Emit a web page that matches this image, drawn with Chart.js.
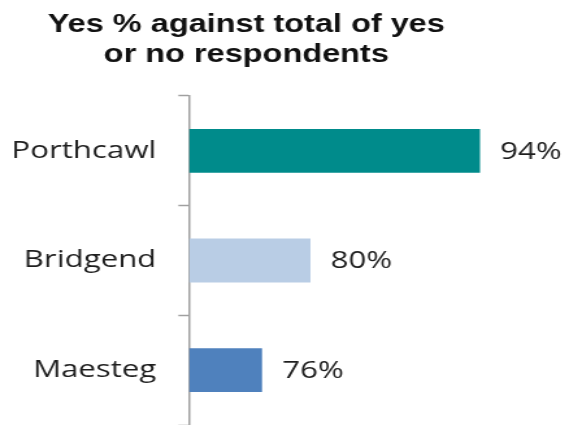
<!DOCTYPE html>
<html>
<head>
<meta charset="utf-8">
<script src="https://cdn.jsdelivr.net/npm/chart.js@4"></script>
<style>
    html, body { margin: 0; padding: 0; background: #fff; overflow: hidden; }
    /* the chart is laid out narrow and then widened to fill the window */
    #wrap { width: 438px; height: 425px; transform: scaleX(1.2991); transform-origin: 0 0; }
</style>
</head>
<body>
<div id="wrap"><canvas id="yesChart" width="438" height="425"></canvas></div>
<script>
const titleLines = ['Yes % against total of yes', 'or no respondents'];
const towns = ['Porthcawl', 'Bridgend', 'Maesteg'];
const yesPercent = [94, 80, 76];
const barColours = ['#008b8b', '#b9cde5', '#4f81bd'];
const axisMin = 70;
const axisMax = 100;

/**
 * Two line heading, centred a little left of the canvas middle.
 */
const headingPlugin = {
    id: 'heading',
    afterDraw(chart) {
        const ctx = chart.ctx;
        ctx.save();
        ctx.font = 'bold 25px "Liberation Sans", Arial, sans-serif';
        ctx.fillStyle = '#111';
        ctx.textAlign = 'center';
        ctx.textBaseline = 'alphabetic';
        titleLines.forEach(function(line, i) {
            ctx.fillText(line, 189.6, 32 + i * 30);
        });
        ctx.restore();
    }
};

/**
 * Writes the percentage just past the end of each bar.
 */
const valueLabelPlugin = {
    id: 'valueLabels',
    afterDatasetsDraw(chart) {
        const ctx = chart.ctx;
        const meta = chart.getDatasetMeta(0);
        ctx.save();
        ctx.font = '24px "Open Sans", sans-serif';
        ctx.fillStyle = '#1e1e1e';
        ctx.textAlign = 'left';
        ctx.textBaseline = 'middle';
        meta.data.forEach(function(bar, i) {
            ctx.fillText(yesPercent[i] + '%', bar.x + 15.5, bar.y + 1);
        });
        ctx.restore();
    }
};

const yesChart = new Chart(document.getElementById('yesChart').getContext('2d'), {
    type: 'bar',
    data: {
        labels: towns,
        datasets: [{
            data: yesPercent,
            backgroundColor: barColours,
            borderWidth: 0,
            barPercentage: 0.4,
            categoryPercentage: 1.0
        }]
    },
    options: {
        indexAxis: 'y',
        responsive: false,
        animation: false,
        layout: {
            padding: { top: 96, right: 12.6, bottom: 0, left: 0 }
        },
        plugins: {
            legend: { display: false },
            title: { display: false },
            tooltip: { enabled: false }
        },
        scales: {
            x: {
                display: false,
                min: axisMin,
                max: axisMax
            },
            y: {
                // fixed axis width, and let the axis run to the bottom edge
                afterFit: function(scale) {
                    scale.width = 145.8;
                    scale.paddingTop = 0;
                    scale.paddingBottom = 0;
                },
                grid: {
                    offset: true,
                    drawOnChartArea: false,
                    drawTicks: true,
                    tickLength: 8.5,
                    tickWidth: 1.5,
                    color: '#a0a0a0'
                },
                border: {
                    display: true,
                    color: '#a0a0a0',
                    width: 1.5
                },
                ticks: {
                    padding: 17,
                    color: '#1e1e1e',
                    font: { family: '"Open Sans", sans-serif', size: 24 }
                }
            }
        }
    },
    plugins: [headingPlugin, valueLabelPlugin]
});
</script>
</body>
</html>
